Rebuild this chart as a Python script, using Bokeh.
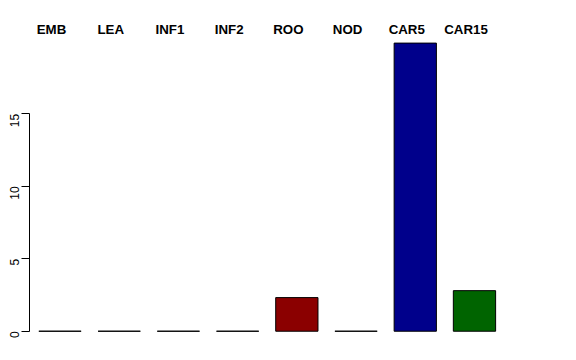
import math
from bokeh.plotting import figure
from bokeh.models import ColumnDataSource, Range1d, FixedTicker
from bokeh.core.properties import value
from bokeh.embed import file_html
from bokeh.resources import INLINE

categories = ["EMB", "LEA", "INF1", "INF2", "ROO", "NOD", "CAR5", "CAR15"]
values = [0, 0, 0, 0, 2.32, 0, 19.88, 2.8]
colors = ["#555555", "#555555", "#555555", "#555555", "#8B0000", "#555555", "#00008B", "#006400"]
y_ticks = [0, 5, 10, 15]
label_level = 20.8

xs = list(range(len(categories)))
src = ColumnDataSource(dict(x=xs, top=values, cat=categories, color=colors,
                            ly=[label_level] * len(categories)))

p = figure(width=576, height=360, output_backend="svg", toolbar_location=None,
           x_range=Range1d(-0.515, 8.723), y_range=Range1d(-2.02, 22.82),
           min_border_left=29, min_border_right=0, min_border_top=0, min_border_bottom=0)
p.outline_line_color = None
p.xgrid.visible = False
p.ygrid.visible = False
p.xaxis.visible = False
p.background_fill_color = "white"
p.border_fill_color = "white"

p.vbar(x="x", top="top", bottom=0, width=0.714, fill_color="color",
       line_color="black", line_width=1, source=src)

p.text(x="x", y="ly", text="cat", source=src, text_align="center",
       text_baseline="middle", text_font=value("Liberation Sans"),
       text_font_style="bold", text_font_size="13.3px", text_color="black",
       x_offset=-8.5)

ax = p.yaxis[0]
ax.ticker = FixedTicker(ticks=y_ticks)
ax.bounds = (0, 15)
ax.major_tick_out = 8
ax.major_tick_in = 0
ax.minor_tick_out = 0
ax.minor_tick_in = 0
ax.major_label_orientation = math.pi / 2
ax.major_label_standoff = 7
ax.major_label_text_font = "Liberation Sans"
ax.major_label_text_font_size = "12px"
ax.major_label_text_color = "black"
ax.axis_line_color = "black"
ax.major_tick_line_color = "black"

open("out.html", "w").write(file_html(p, INLINE))
